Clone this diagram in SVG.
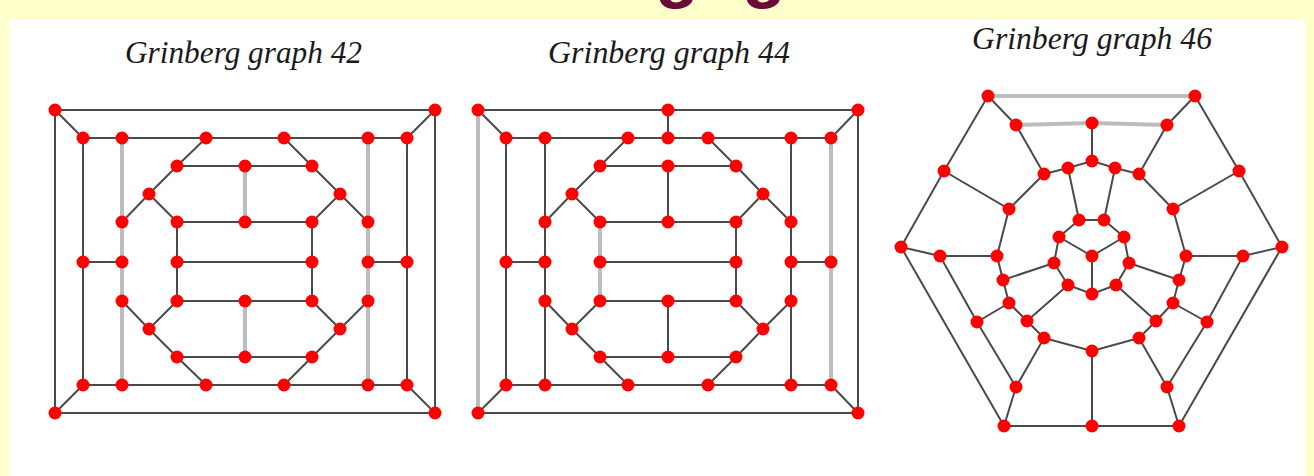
<svg xmlns="http://www.w3.org/2000/svg" width="1314" height="476" viewBox="0 0 1314 476">
<style>
.bg{fill:#FFFFCC}
.panel{fill:#FFFFFF}
.t{font-family:"Liberation Serif","Times New Roman",serif;font-style:italic;font-size:31px;fill:#1a1a1a}
.h{font-family:"Liberation Sans",Arial,sans-serif;font-weight:bold;font-size:72px;fill:#6B0A3A}
.e{stroke:#4a4a4a;stroke-width:2;fill:none;stroke-linecap:round}
.g{stroke:#BDBDBD;stroke-width:4;fill:none}
.n circle{fill:#FF0000}
</style>
<rect class="bg" x="0" y="0" width="1314" height="476"/>
<rect class="panel" x="9" y="20" width="1296" height="456"/>
<text class="h" y="-6"><tspan x="655">g</tspan><tspan x="742">g</tspan></text>

<text class="t" x="125" y="63" textLength="237" lengthAdjust="spacingAndGlyphs">Grinberg graph 42</text>
<text class="t" x="548" y="63" textLength="242" lengthAdjust="spacingAndGlyphs">Grinberg graph 44</text>
<text class="t" x="972" y="49" textLength="240" lengthAdjust="spacingAndGlyphs">Grinberg graph 46</text>

<g id="connectors">
<g id="edges42">
<path class="g" d="M122,138V385M368,138V385M245,166V222M245,301V357"/>
<path class="e" d="M55,110H435V413H55Z M55,110L83,138M435,110L407,138M55,413L83,385M435,413L407,385
M83,138H407M83,385H407M83,138V385M407,138V385M83,262H122M368,262H407
M206,138L177,166L149,194L122,222M149,194L177,222
M284,138L312,166L340,194L368,222M340,194L312,222
M177,166H312M177,222H312M177,222V301M312,222V301M177,262H312M177,301H312
M122,301L149,329L177,301M149,329L177,357L206,385
M368,301L340,329L312,301M340,329L312,357L284,385M177,357H312"/>
</g>
<g id="edges44">
<path class="g" d="M478,110V413M600,222V301M831,138V385"/>
<path class="e" d="M478,110H858V413H478M478,110L506,138M858,110L831,138M478,413L506,385M858,413L831,385
M668,110V138M506,138H831M506,385H831M506,138V385M545,138V385M506,262H545
M628,138L600,166L572,194L545,222M572,194L600,222
M708,138L736,166L763,194L791,222M763,194L736,222
M600,166H736M668,166V222M600,222H736M736,222V301M600,262H736M600,301H736M668,301V357
M545,301L572,329L600,301M572,329L600,357L628,385
M791,301L763,329L736,301M763,329L736,357L708,385
M600,357H736M791,138V385M791,262H831"/>
</g>
<g id="edges46">
<path class="g" d="M988,96H1195M1016,125L1092,123L1167,125"/>
<path class="e" d="M988,96L1016,125M1167,125L1195,96M1092,123V161M1068,168L1092,161L1115,168
M1068,168L1044,174M1115,168L1139,174M1016,125L1044,174M1167,125L1139,174
M1068,168L1079,220M1115,168L1104,220M988,96L944,171L901,247M1195,96L1239,171L1282,247
M944,171L1009,209L1044,174M1239,171L1173,209L1139,174M1009,209L997,256M1173,209L1186,256
M901,247L940,256L997,256M1282,247L1243,256L1186,256
M1079,220H1104M1059,237L1079,220M1124,237L1104,220M1059,237L1092,256L1124,237M1059,237L1054,263M1124,237L1129,263
M901,247L1004,426M1282,247L1179,426M940,256L977,322M1243,256L1207,322
M997,256L1003,280L1054,263L1068,285M1186,256L1179,280L1129,263L1116,285
M1003,280L1009,303M1179,280L1173,303M1092,256V294M1068,285L1092,294L1116,285
M1009,303L977,322M1173,303L1207,322M1009,303L1027,321M1173,303L1156,321
M1068,285L1027,321M1116,285L1156,321M1027,321L1044,338M1156,321L1139,338
M1044,338L1092,351L1139,338M977,322L1016,387M1207,322L1167,387M1044,338L1016,387M1139,338L1167,387
M1016,387L1004,426M1167,387L1179,426M1004,426H1179M1092,351V426"/>
</g>
</g>

<g id="nodes42" class="n">
<circle cx="55" cy="110" r="6.5"/><circle cx="435" cy="110" r="6.5"/><circle cx="55" cy="413" r="6.5"/><circle cx="435" cy="413" r="6.5"/>
<circle cx="83" cy="138" r="6.5"/><circle cx="122" cy="138" r="6.5"/><circle cx="206" cy="138" r="6.5"/><circle cx="284" cy="138" r="6.5"/><circle cx="368" cy="138" r="6.5"/><circle cx="407" cy="138" r="6.5"/>
<circle cx="83" cy="385" r="6.5"/><circle cx="122" cy="385" r="6.5"/><circle cx="206" cy="385" r="6.5"/><circle cx="284" cy="385" r="6.5"/><circle cx="368" cy="385" r="6.5"/><circle cx="407" cy="385" r="6.5"/>
<circle cx="83" cy="262" r="6.5"/><circle cx="407" cy="262" r="6.5"/>
<circle cx="122" cy="222" r="6.5"/><circle cx="122" cy="262" r="6.5"/><circle cx="122" cy="301" r="6.5"/>
<circle cx="368" cy="222" r="6.5"/><circle cx="368" cy="262" r="6.5"/><circle cx="368" cy="301" r="6.5"/>
<circle cx="177" cy="166" r="6.5"/><circle cx="245" cy="166" r="6.5"/><circle cx="312" cy="166" r="6.5"/>
<circle cx="149" cy="194" r="6.5"/><circle cx="340" cy="194" r="6.5"/>
<circle cx="177" cy="222" r="6.5"/><circle cx="245" cy="222" r="6.5"/><circle cx="312" cy="222" r="6.5"/>
<circle cx="177" cy="262" r="6.5"/><circle cx="312" cy="262" r="6.5"/>
<circle cx="177" cy="301" r="6.5"/><circle cx="245" cy="301" r="6.5"/><circle cx="312" cy="301" r="6.5"/>
<circle cx="149" cy="329" r="6.5"/><circle cx="340" cy="329" r="6.5"/>
<circle cx="177" cy="357" r="6.5"/><circle cx="245" cy="357" r="6.5"/><circle cx="312" cy="357" r="6.5"/>
</g>

<g id="nodes44" class="n">
<circle cx="478" cy="110" r="6.5"/><circle cx="858" cy="110" r="6.5"/><circle cx="478" cy="413" r="6.5"/><circle cx="858" cy="413" r="6.5"/><circle cx="668" cy="110" r="6.5"/>
<circle cx="506" cy="138" r="6.5"/><circle cx="545" cy="138" r="6.5"/><circle cx="628" cy="138" r="6.5"/><circle cx="668" cy="138" r="6.5"/><circle cx="708" cy="138" r="6.5"/><circle cx="791" cy="138" r="6.5"/><circle cx="831" cy="138" r="6.5"/>
<circle cx="506" cy="385" r="6.5"/><circle cx="545" cy="385" r="6.5"/><circle cx="628" cy="385" r="6.5"/><circle cx="708" cy="385" r="6.5"/><circle cx="791" cy="385" r="6.5"/><circle cx="831" cy="385" r="6.5"/>
<circle cx="600" cy="166" r="6.5"/><circle cx="668" cy="166" r="6.5"/><circle cx="736" cy="166" r="6.5"/>
<circle cx="572" cy="194" r="6.5"/><circle cx="763" cy="194" r="6.5"/>
<circle cx="545" cy="222" r="6.5"/><circle cx="600" cy="222" r="6.5"/><circle cx="668" cy="222" r="6.5"/><circle cx="736" cy="222" r="6.5"/><circle cx="791" cy="222" r="6.5"/>
<circle cx="506" cy="262" r="6.5"/><circle cx="545" cy="262" r="6.5"/><circle cx="600" cy="262" r="6.5"/><circle cx="736" cy="262" r="6.5"/><circle cx="791" cy="262" r="6.5"/><circle cx="831" cy="262" r="6.5"/>
<circle cx="545" cy="301" r="6.5"/><circle cx="600" cy="301" r="6.5"/><circle cx="668" cy="301" r="6.5"/><circle cx="736" cy="301" r="6.5"/><circle cx="791" cy="301" r="6.5"/>
<circle cx="572" cy="329" r="6.5"/><circle cx="763" cy="329" r="6.5"/>
<circle cx="600" cy="357" r="6.5"/><circle cx="668" cy="357" r="6.5"/><circle cx="736" cy="357" r="6.5"/>
</g>

<g id="nodes46" class="n">
<circle cx="988" cy="96" r="6.5"/><circle cx="1195" cy="96" r="6.5"/>
<circle cx="1016" cy="125" r="6.5"/><circle cx="1092" cy="123" r="6.5"/><circle cx="1167" cy="125" r="6.5"/>
<circle cx="944" cy="171" r="6.5"/><circle cx="1239" cy="171" r="6.5"/>
<circle cx="1044" cy="174" r="6.5"/><circle cx="1068" cy="168" r="6.5"/><circle cx="1092" cy="161" r="6.5"/><circle cx="1115" cy="168" r="6.5"/><circle cx="1139" cy="174" r="6.5"/>
<circle cx="1009" cy="209" r="6.5"/><circle cx="1173" cy="209" r="6.5"/>
<circle cx="1079" cy="220" r="6.5"/><circle cx="1104" cy="220" r="6.5"/>
<circle cx="1059" cy="237" r="6.5"/><circle cx="1124" cy="237" r="6.5"/>
<circle cx="901" cy="247" r="6.5"/><circle cx="1282" cy="247" r="6.5"/>
<circle cx="940" cy="256" r="6.5"/><circle cx="997" cy="256" r="6.5"/><circle cx="1092" cy="256" r="6.5"/><circle cx="1186" cy="256" r="6.5"/><circle cx="1243" cy="256" r="6.5"/>
<circle cx="1054" cy="263" r="6.5"/><circle cx="1129" cy="263" r="6.5"/>
<circle cx="1003" cy="280" r="6.5"/><circle cx="1179" cy="280" r="6.5"/>
<circle cx="1068" cy="285" r="6.5"/><circle cx="1116" cy="285" r="6.5"/><circle cx="1092" cy="294" r="6.5"/>
<circle cx="1009" cy="303" r="6.5"/><circle cx="1173" cy="303" r="6.5"/>
<circle cx="977" cy="322" r="6.5"/><circle cx="1207" cy="322" r="6.5"/>
<circle cx="1027" cy="321" r="6.5"/><circle cx="1156" cy="321" r="6.5"/>
<circle cx="1044" cy="338" r="6.5"/><circle cx="1139" cy="338" r="6.5"/><circle cx="1092" cy="351" r="6.5"/>
<circle cx="1016" cy="387" r="6.5"/><circle cx="1167" cy="387" r="6.5"/>
<circle cx="1004" cy="426" r="6.5"/><circle cx="1092" cy="426" r="6.5"/><circle cx="1179" cy="426" r="6.5"/>
</g>
</svg>
